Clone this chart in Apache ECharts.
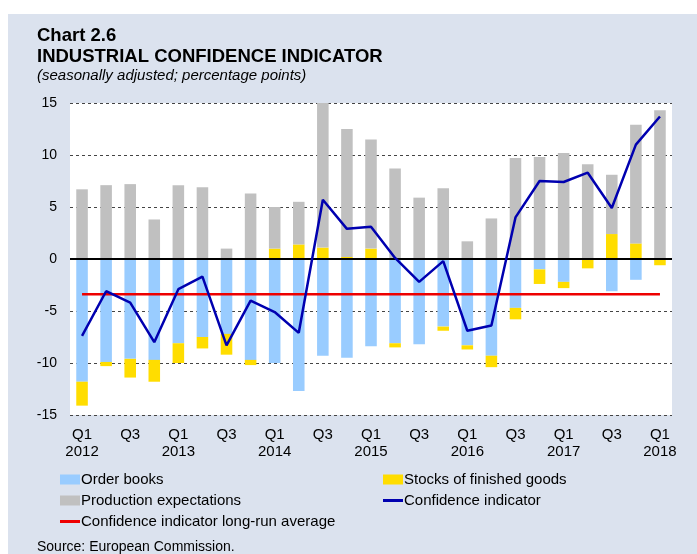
<!DOCTYPE html>
<html>
<head>
<meta charset="utf-8">
<script src="https://cdn.jsdelivr.net/npm/echarts@6/dist/echarts.min.js"></script>
<style>
  html, body { margin: 0; padding: 0; background: #fff; }
  #main { width: 697px; height: 554px; }
</style>
</head>
<body>
<div id="main"></div>
<script>
// quarters Q1 2012 .. Q1 2018
var categories = ['Q1\n2012','Q2','Q3','Q4','Q1\n2013','Q2','Q3','Q4','Q1\n2014','Q2','Q3','Q4',
  'Q1\n2015','Q2','Q3','Q4','Q1\n2016','Q2','Q3','Q4','Q1\n2017','Q2','Q3','Q4','Q1\n2018'];

var orderBooks = [-11.8, -9.9, -9.6, -9.7, -8.1, -7.5, -7.2, -9.7, -10.0, -12.7, -9.3, -9.5,
  -8.4, -8.1, -8.2, -6.5, -8.3, -9.3, -4.7, -1.0, -2.2, 0, -3.1, -2.0, 0];
var stocks = [-2.3, -0.4, -1.8, -2.1, -1.9, -1.1, -2.0, -0.5, 1.0, 1.4, 1.1, 0.2,
  1.0, -0.4, 0, -0.4, -0.4, -1.1, -1.1, -1.4, -0.6, -0.9, 2.4, 1.5, -0.6];
var production = [6.7, 7.1, 7.2, 3.8, 7.1, 6.9, 1.0, 6.3, 4.0, 4.1, 13.9, 12.3,
  10.5, 8.7, 5.9, 6.8, 1.7, 3.9, 9.7, 9.8, 10.2, 9.1, 5.7, 11.4, 14.3];
var confidence = [-7.4, -3.1, -4.2, -8.0, -2.9, -1.7, -8.3, -4.0, -5.1, -7.1, 5.7, 2.9,
  3.1, 0.1, -2.2, -0.2, -6.9, -6.4, 4.0, 7.5, 7.4, 8.3, 4.9, 11.0, 13.7];
var longRunAvg = -3.4;

var FONT = 'Liberation Sans, Arial, sans-serif';
var chart = echarts.init(document.getElementById('main'));

// one small legend per item so they sit where the original puts them
function legendAt(name, left, top, isLine) {
  return {
    data: [name],
    left: left, top: top,
    padding: 0,
    itemWidth: 20, itemHeight: isLine ? 3 : 10,
    icon: 'rect',
    selectedMode: false,
    textStyle: { fontFamily: FONT, fontSize: 15, color: '#000', padding: [0, 0, 0, -4] }
  };
}

var option = {
  animation: false,
  backgroundColor: '#dbe2ee',
  textStyle: { fontFamily: FONT },
  graphic: [
    { type: 'rect', shape: { x: 0, y: 0, width: 697, height: 14 }, style: { fill: '#fff' } },
    { type: 'rect', shape: { x: 0, y: 0, width: 8, height: 554 }, style: { fill: '#fff' } },
    { type: 'text', left: 37, top: 26, style: { text: 'Chart 2.6', font: 'bold 18.5px ' + FONT, fill: '#000' } },
    { type: 'text', left: 37, top: 47, style: { text: 'INDUSTRIAL CONFIDENCE INDICATOR', font: 'bold 18.5px ' + FONT, fill: '#000' } },
    { type: 'text', left: 37, top: 68, style: { text: '(seasonally adjusted; percentage points)', font: 'italic 15px ' + FONT, fill: '#000' } },
    { type: 'text', left: 37, top: 540, style: { text: 'Source: European Commission.', font: '14px ' + FONT, fill: '#000' } }
  ],
  legend: [
    legendAt('Order books', 60, 472, false),
    legendAt('Stocks of finished goods', 383, 472, false),
    legendAt('Production expectations', 60, 493, false),
    legendAt('Confidence indicator', 383, 493, true),
    legendAt('Confidence indicator long-run average', 60, 514, true)
  ],
  grid: {
    left: 70, right: 25, top: 103, bottom: 139,
    show: true, backgroundColor: '#fff', borderWidth: 0
  },
  xAxis: {
    type: 'category',
    data: categories,
    axisLine: { show: false },
    axisTick: { show: false },
    axisLabel: { interval: 1, fontSize: 15, lineHeight: 17, color: '#000', margin: 11 }
  },
  yAxis: {
    type: 'value',
    min: -15, max: 15, interval: 5,
    axisLine: { show: false },
    axisTick: { show: false },
    axisLabel: { fontSize: 14, color: '#000', margin: 13 },
    splitLine: { lineStyle: { color: '#444', type: [3, 3], width: 1 } }
  },
  series: [
    {
      name: 'Order books', type: 'bar', stack: 'a', data: orderBooks,
      barWidth: '48%', itemStyle: { color: '#99ccff' }
    },
    {
      name: 'Stocks of finished goods', type: 'bar', stack: 'a', data: stocks,
      itemStyle: { color: '#ffdd00' }
    },
    {
      name: 'Production expectations', type: 'bar', stack: 'a', data: production,
      itemStyle: { color: '#c0c0c0' },
      markLine: {
        silent: true, symbol: 'none', label: { show: false },
        lineStyle: { color: '#000', type: 'solid', width: 2 },
        data: [{ yAxis: 0 }]
      }
    },
    {
      name: 'Confidence indicator long-run average', type: 'line',
      data: categories.map(function () { return longRunAvg; }),
      showSymbol: false, symbol: 'none',
      itemStyle: { color: '#ee0000' },
      lineStyle: { color: '#ee0000', width: 2.5 }, z: 4
    },
    {
      name: 'Confidence indicator', type: 'line', data: confidence,
      showSymbol: false, symbol: 'none',
      itemStyle: { color: '#0000b0' },
      lineStyle: { color: '#0000b0', width: 2.5 }, z: 5
    }
  ]
};
chart.setOption(option);
</script>
</body>
</html>
